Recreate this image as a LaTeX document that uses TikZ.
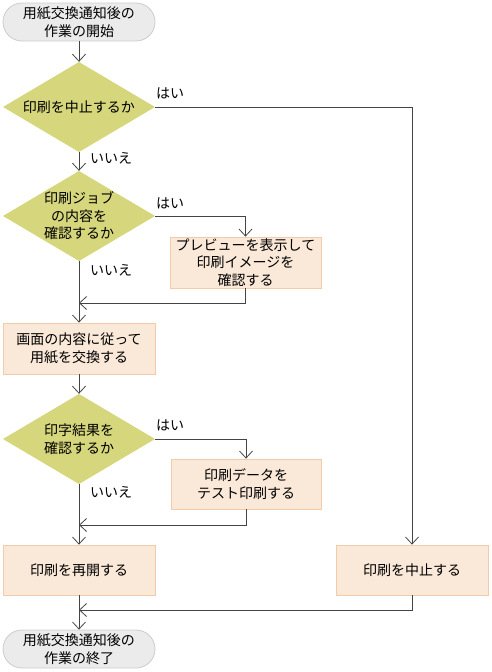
\documentclass[tikz,border=0pt]{standalone}
\usepackage{fontspec}
\setmainfont{Noto Sans CJK JP}
\usetikzlibrary{arrows.meta}
\definecolor{dfill}{HTML}{D6D67C}
\definecolor{bfill}{HTML}{FAE8D8}
\definecolor{bline}{HTML}{F2CCA8}
\definecolor{tfill}{HTML}{EBEBEB}
\definecolor{tline}{HTML}{CCCCCC}
\definecolor{lcol}{HTML}{444444}
\tikzset{
  base/.style={align=center, font=\fontsize{14}{17.5}\selectfont, text=black, inner sep=0pt},
  term/.style={base, draw=tline, fill=tfill, line width=0.8pt, minimum width=152pt, minimum height=38pt, rounded corners=19pt},
  proc/.style={base, draw=bline, fill=bfill, line width=0.8pt, minimum width=152pt, minimum height=51pt},
  dec/.style={base, minimum width=152pt, minimum height=90pt,
    path picture={\fill[dfill] (path picture bounding box.north) -- (path picture bounding box.east) -- (path picture bounding box.south) -- (path picture bounding box.west) -- cycle;}},
  arr/.style={draw=lcol, line width=0.9pt, -{Straight Barb[length=7pt,width=13pt,line width=0.8pt]}},
  lab/.style={font=\fontsize{14}{17.5}\selectfont, inner sep=0pt, anchor=west}
}
\begin{document}
\begin{tikzpicture}[x=1pt,y=-1pt]
\useasboundingbox (0,0) rectangle (491,672);
\node[term] (start) at (79,22) {用紙交換通知後の\\作業の開始};
\node[dec] (d1) at (79,107) {印刷を中止するか};
\node[dec] (d2) at (79,216) {印刷ジョブ\\の内容を\\確認するか};
\node[proc, minimum width=151pt] (prev) at (245.5,262.5) {プレビューを表示して\\印刷イメージを\\確認する};
\node[proc] (b3) at (79,348.5) {画面の内容に従って\\用紙を交換する};
\node[dec] (d3) at (79,439) {印字結果を\\確認するか};
\node[proc, minimum width=150pt, minimum height=50pt] (test) at (246,484) {印刷データを\\テスト印刷する};
\node[proc, minimum height=50pt] (resume) at (79,570) {印刷を再開する};
\node[proc, minimum height=50pt] (stop) at (412,570) {印刷を中止する};
\node[term] (end) at (79,649) {用紙交換通知後の\\作業の終了};
\coordinate (m1) at (79,303);
\coordinate (m2) at (79,525);
\coordinate (m3) at (79,610);
\node[lab] (y1) at (156,93) {はい};
\node[lab] (y2) at (156,203) {はい};
\node[lab] (y3) at (156,425) {はい};
\node[lab] (n1) at (90,158) {いいえ};
\node[lab] (n2) at (90,270) {いいえ};
\node[lab] (n3) at (90,492) {いいえ};
\draw[arr] (start) -- (d1);
\draw[arr] (d1.east) -| (stop.north);
\draw[arr] (d1) -- (d2);
\draw[arr] (d2.east) -| (prev.north);
\draw[arr] (prev.south) |- (m1);
\draw[arr] (d2) -- (b3);
\draw[arr] (b3) -- (d3);
\draw[arr] (d3.east) -| (test.north);
\draw[arr] (test.south) |- (m2);
\draw[arr] (d3) -- (resume);
\draw[arr] (resume) -- (end);
\draw[arr] (stop.south) |- (m3);
\end{tikzpicture}
\end{document}
